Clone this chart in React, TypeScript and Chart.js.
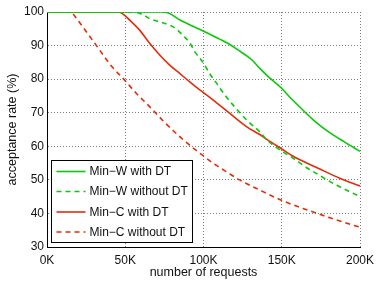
import React, { useEffect, useRef } from "react";
import { Chart, registerables } from "chart.js";

Chart.register(...registerables);

// x values in thousands of requests
const wDtX = [0, 40, 74, 78, 85, 94, 104, 110, 115.5, 122, 131, 136, 141, 149.4, 156.5, 163.5, 171, 179, 190, 200];
const wDtY = [100, 100, 100, 99.6, 97.6, 95.6, 93.4, 92, 90.7, 88.7, 85.7, 83.2, 80.9, 77.5, 74, 70.8, 67.5, 64.6, 61.3, 58.5];

const wNoDtX = [0, 40, 55, 58, 62, 65.6, 73.9, 79.7, 83.5, 86.7, 91.2, 94.4, 98.9, 105.3, 109.1, 113.6, 127.7, 136, 140.5, 146.9, 157.1, 167, 170, 182.7, 200];
const wNoDtY = [100, 100, 100, 99.8, 99, 98, 96.8, 95.8, 94.6, 93.1, 90.8, 88.2, 85.5, 80.7, 78.3, 75.3, 67.8, 64.3, 61.9, 59.5, 56.5, 53.3, 52.5, 49, 45];

const cDtX = [0, 30, 45, 48, 52.8, 59.2, 65.6, 72, 78.4, 84.8, 91.2, 97.6, 104, 116.8, 127.7, 136, 141, 150, 157, 174, 187, 200];
const cDtY = [100, 100, 100, 99.6, 97.6, 94.6, 90.7, 87.2, 84.2, 81.7, 79.2, 76.8, 74.6, 69.8, 65.8, 63.5, 61.9, 59.2, 57.1, 53.3, 50.5, 48.2];

const cNoDtX = [0, 10, 15, 16.5, 19, 25, 33.6, 41, 49.6, 57, 65.6, 75, 85, 91, 98, 106, 115, 123, 138, 149.4, 163.5, 179, 190, 200];
const cNoDtY = [100, 100, 100, 99.5, 98, 94.2, 88.7, 84, 79.7, 75.8, 71.8, 67.2, 62.8, 60.4, 57.8, 55, 52.3, 50, 46.5, 44, 41.5, 39, 37.3, 35.9];

const seriesLabels = ["Min\u2212W with DT", "Min\u2212W without DT", "Min\u2212C with DT", "Min\u2212C without DT"];
const xTicks = [0, 50, 100, 150, 200];
const yTicks = [30, 40, 50, 60, 70, 80, 90, 100];

const GREEN = "rgb(10,200,10)";
const RED = "rgb(225,45,10)";
const FONT = "'Liberation Sans', Arial, Helvetica, sans-serif";
const GRID = "rgba(110,110,110,0.9)";

const toPts = (xs: number[], ys: number[]) => xs.map((x, i) => ({ x, y: ys[i] }));

const legendPlugin = {
  id: "boxLegend",
  afterDraw(chart: any) {
    const { ctx, chartArea } = chart;
    const left = Math.round(chartArea.left + 4) + 0.5;
    const bottom = Math.round(chartArea.bottom - 5) + 0.5;
    const top = 160.5;
    const width = 141;
    ctx.save();
    ctx.fillStyle = "#fff";
    ctx.fillRect(left, top, width, bottom - top);
    ctx.strokeStyle = "#000";
    ctx.lineWidth = 1;
    ctx.strokeRect(left, top, width, bottom - top);
    const rows = [11, 31, 51.5, 71.5];
    chart.data.datasets.forEach((ds: any, i: number) => {
      const y = top + rows[i];
      ctx.beginPath();
      ctx.strokeStyle = ds.borderColor;
      ctx.lineWidth = 1.6;
      ctx.setLineDash(ds.borderDash || []);
      ctx.moveTo(left + 5, y);
      ctx.lineTo(left + 34, y);
      ctx.stroke();
      ctx.setLineDash([]);
      ctx.fillStyle = "#111";
      ctx.font = `12px ${FONT}`;
      ctx.textBaseline = "middle";
      ctx.textAlign = "left";
      ctx.fillText(ds.label, left + 38, y + 0.5);
    });
    ctx.restore();
  },
};

export default function App() {
  const ref = useRef<HTMLCanvasElement | null>(null);

  useEffect(() => {
    if (!ref.current) return;
    const mk = (label: string, xs: number[], ys: number[], color: string, dashed: boolean) => ({
      label,
      data: toPts(xs, ys),
      borderColor: color,
      backgroundColor: color,
      borderWidth: 1.6,
      borderDash: dashed ? [5, 4] : [],
      pointRadius: 0,
      fill: false,
      cubicInterpolationMode: "monotone" as const,
    });
    const chart = new Chart(ref.current, {
      type: "line",
      data: {
        datasets: [
          mk(seriesLabels[0], wDtX, wDtY, GREEN, false),
          mk(seriesLabels[1], wNoDtX, wNoDtY, GREEN, true),
          mk(seriesLabels[2], cDtX, cDtY, RED, false),
          mk(seriesLabels[3], cNoDtX, cNoDtY, RED, true),
        ],
      },
      options: {
        animation: false,
        responsive: false,
        devicePixelRatio: 1,
        layout: { padding: { top: 12, right: 16, left: 0, bottom: 0 } },
        plugins: { legend: { display: false }, tooltip: { enabled: false } },
        scales: {
          x: {
            type: "linear",
            min: 0,
            max: 200,
            afterFit: (s: any) => {
              s.height = 35;
              s.paddingLeft = 0;
              s.paddingRight = 0;
              s.paddingTop = 0;
              s.paddingBottom = 0;
            },
            afterBuildTicks: (s: any) => { s.ticks = xTicks.map((v) => ({ value: v })); },
            ticks: {
              color: "#111",
              padding: 6,
              font: { family: FONT, size: 12 },
              callback: (v: any) => `${v}K`,
            },
            grid: { color: GRID, drawTicks: false },
            border: { display: true, color: "#000", width: 1, dash: [1, 2] } as any,
            title: {
              display: true,
              text: "number of requests",
              color: "#111",
              font: { family: FONT, size: 12.5 },
              padding: { top: 0, bottom: 1.5 },
            },
          },
          y: {
            min: 30,
            max: 100,
            afterFit: (s: any) => {
              s.width = 47;
              s.paddingLeft = 0;
              s.paddingRight = 0;
              s.paddingTop = 0;
              s.paddingBottom = 0;
            },
            afterBuildTicks: (s: any) => { s.ticks = yTicks.map((v) => ({ value: v })); },
            ticks: {
              color: "#111",
              padding: 3,
              font: { family: FONT, size: 12 },
            },
            grid: { color: GRID, drawTicks: false },
            border: { display: true, color: "#000", width: 1, dash: [1, 2] } as any,
            title: {
              display: true,
              text: "acceptance rate (%)",
              color: "#111",
              font: { family: FONT, size: 12.5 },
              padding: { top: 5.5, bottom: 0 },
            },
          },
        },
      },
      plugins: [legendPlugin],
    } as any);
    return () => chart.destroy();
  }, []);

  return (
    <div style={{ position: "fixed", left: 0, top: 0, width: 376, height: 282, background: "#fff" }}>
      <canvas ref={ref} width={376} height={282} style={{ width: 376, height: 282, display: "block" }} />
    </div>
  );
}
